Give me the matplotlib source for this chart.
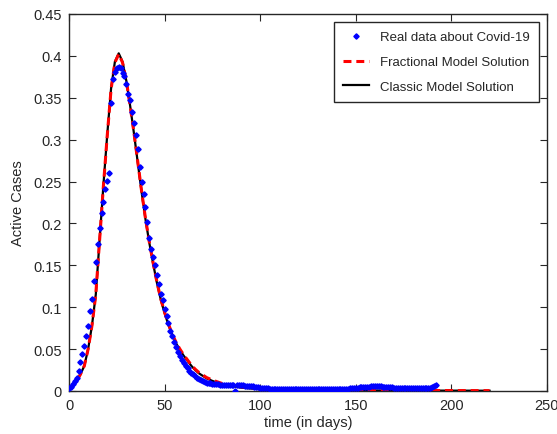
import numpy as np
import matplotlib.pyplot as plt

# Datos reales (casos activos, un valor por dia, dia 0 a 192)
dias_reales = np.arange(0, 193)
casos_reales = [
    0.003, 0.005, 0.008, 0.012, 0.016, 0.024, 0.034, 0.044, 0.054, 0.066,
    0.078, 0.095, 0.110, 0.131, 0.154, 0.176, 0.195, 0.213, 0.225, 0.241,
    0.251, 0.260, 0.344, 0.372, 0.381, 0.385, 0.387, 0.386, 0.380, 0.376,
    0.367, 0.355, 0.347, 0.333, 0.320, 0.305, 0.289, 0.267, 0.250, 0.235,
    0.219, 0.202, 0.182, 0.169, 0.160, 0.150, 0.138, 0.128, 0.116, 0.108,
    0.098, 0.090, 0.081, 0.072, 0.066, 0.058, 0.052, 0.046, 0.042, 0.037,
    0.033, 0.030, 0.027, 0.024, 0.022, 0.020, 0.018, 0.016, 0.014, 0.013,
    0.012, 0.011, 0.010, 0.009, 0.009, 0.008, 0.008, 0.008, 0.008, 0.007,
    0.007, 0.007, 0.007, 0.007, 0.007, 0.007, 0.007, 0.000, 0.007, 0.007,
    0.007, 0.007, 0.006, 0.006, 0.006, 0.006, 0.006, 0.005, 0.005, 0.005,
    0.004, 0.004, 0.003, 0.003, 0.003, 0.002, 0.002, 0.002, 0.002, 0.002,
    0.002, 0.002, 0.002, 0.002, 0.002, 0.002, 0.002, 0.002, 0.002, 0.002,
    0.002, 0.002, 0.002, 0.002, 0.002, 0.002, 0.002, 0.002, 0.002, 0.002,
    0.002, 0.002, 0.002, 0.002, 0.002, 0.002, 0.002, 0.002, 0.002, 0.002,
    0.002, 0.002, 0.002, 0.002, 0.002, 0.002, 0.002, 0.004, 0.004, 0.004,
    0.004, 0.004, 0.005, 0.005, 0.005, 0.005, 0.005, 0.005, 0.006, 0.006,
    0.006, 0.006, 0.006, 0.006, 0.005, 0.005, 0.005, 0.005, 0.005, 0.005,
    0.004, 0.004, 0.004, 0.004, 0.004, 0.004, 0.004, 0.004, 0.004, 0.004,
    0.004, 0.004, 0.004, 0.004, 0.004, 0.004, 0.004, 0.004, 0.004, 0.004,
    0.005, 0.006, 0.007,
]

# Solucion de los modelos (fraccional y clasico casi iguales)
dias_modelo = [0, 2, 4, 6, 8, 10, 12, 14, 16, 18, 20, 22, 24, 26, 28, 30,
               32, 34, 36, 38, 40, 42, 44, 46, 48, 50, 52, 54, 56, 58, 60,
               62, 64, 66, 68, 70, 72, 75, 80, 85, 90, 100, 110, 120, 140,
               160, 180, 200, 220]
modelo_fraccional = [0.003, 0.007, 0.012, 0.020, 0.030, 0.050, 0.078, 0.115,
                     0.180, 0.245, 0.305, 0.360, 0.392, 0.402, 0.392, 0.370,
                     0.340, 0.308, 0.273, 0.238, 0.206, 0.178, 0.153, 0.130,
                     0.110, 0.094, 0.080, 0.068, 0.058, 0.050, 0.043, 0.037,
                     0.031, 0.026, 0.022, 0.019, 0.016, 0.013, 0.009, 0.007,
                     0.005, 0.003, 0.002, 0.0015, 0.001, 0.0008, 0.0006,
                     0.0005, 0.0004]
modelo_clasico = [0.003, 0.007, 0.012, 0.020, 0.030, 0.050, 0.078, 0.115,
                  0.180, 0.246, 0.306, 0.361, 0.393, 0.403, 0.393, 0.370,
                  0.340, 0.307, 0.272, 0.237, 0.205, 0.177, 0.152, 0.129,
                  0.109, 0.093, 0.079, 0.067, 0.057, 0.049, 0.042, 0.036,
                  0.030, 0.025, 0.021, 0.018, 0.015, 0.012, 0.008, 0.006,
                  0.004, 0.002, 0.0015, 0.001, 0.0008, 0.0006, 0.0005,
                  0.0004, 0.0003]

xticks = [0, 50, 100, 150, 200, 250]
yticks = [0, 0.05, 0.1, 0.15, 0.2, 0.25, 0.3, 0.35, 0.4, 0.45]
ytick_labels = ['0', '0.05', '0.1', '0.15', '0.2', '0.25', '0.3', '0.35', '0.4', '0.45']

plt.rcParams['font.family'] = ['Liberation Sans', 'DejaVu Sans']
texto = '#262626'

fig = plt.figure(figsize=(5.57, 4.35), dpi=100)
ax = fig.add_axes([0.1239, 0.0989, 0.858, 0.8667])

# Linea negra primero, la roja discontinua encima
l_cla, = ax.plot(dias_modelo, modelo_clasico, color='black', lw=1.6,
                 label='Classic Model Solution', zorder=2)
l_fra, = ax.plot(dias_modelo, modelo_fraccional, color='red', lw=2.2,
                 dashes=(2.6, 1.6), label='Fractional Model Solution', zorder=3)
l_real, = ax.plot(dias_reales, casos_reales, linestyle='none', marker='D',
                  ms=2.7, color='blue', mec='blue',
                  label='Real data about Covid-19', zorder=4)

ax.set_xlim(0, 250)
ax.set_ylim(0, 0.45)
ax.set_xticks(xticks)
ax.set_xticklabels([str(x) for x in xticks])
ax.set_yticks(yticks)
ax.set_yticklabels(ytick_labels)
ax.tick_params(direction='in', top=True, right=True, length=5, width=0.8,
               labelsize=10.5, colors=texto, pad=5)
for s in ax.spines.values():
    s.set_color(texto)
    s.set_linewidth(1.0)

ax.set_xlabel('time (in days)', fontsize=10.5, color=texto, labelpad=2)
ax.set_ylabel('Active Cases', fontsize=10.5, color=texto, labelpad=6)

leg = ax.legend(handles=[l_real, l_fra, l_cla], loc='upper right',
                fontsize=9.5, fancybox=False, framealpha=1, edgecolor=texto,
                borderaxespad=0.6, labelspacing=0.95, handlelength=2.0,
                handletextpad=0.8, borderpad=0.7, markerscale=1.0)
leg.get_frame().set_linewidth(1.0)
for t in leg.get_texts():
    t.set_color(texto)

fig.savefig('out.png', dpi=100)
